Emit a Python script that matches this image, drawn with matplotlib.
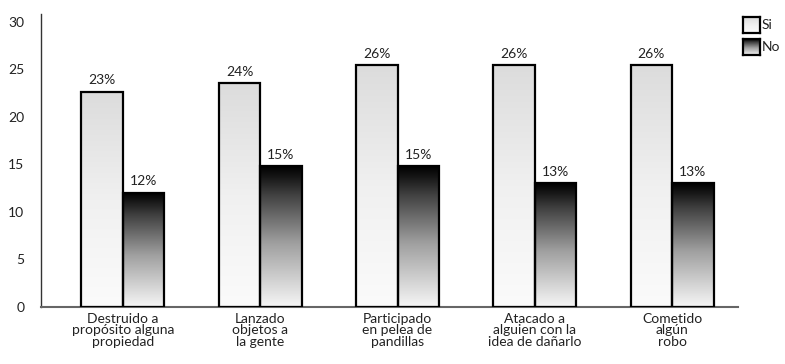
import numpy as np
import matplotlib.pyplot as plt
from matplotlib.colors import LinearSegmentedColormap

categories = ['Destruido a\npropósito alguna\npropiedad',
              'Lanzado\nobjetos a\nla gente',
              'Participado\nen pelea de\npandillas',
              'Atacado a\nalguien con la\nidea de dañarlo',
              'Cometido\nalgún\nrobo']
si_values = [22.6, 23.5, 25.4, 25.4, 25.4]
no_values = [12.0, 14.8, 14.8, 13.0, 13.0]
si_labels = ['23%', '24%', '26%', '26%', '26%']
no_labels = ['12%', '15%', '15%', '13%', '13%']
series_names = ['Si', 'No']

plt.rcParams['font.family'] = ['Lato', 'DejaVu Sans']

cmap_si = LinearSegmentedColormap.from_list('si', ['#fbfbfb', '#f0f0f0', '#dcdcdc'])
cmap_no = LinearSegmentedColormap.from_list(
    'no', [(0, '#f6f6f6'), (0.45, '#a0a0a0'), (0.8, '#404040'), (0.92, '#181818'), (1, '#000000')])
grad = np.linspace(0, 1, 256).reshape(-1, 1)

fig = plt.figure(figsize=(7.85, 3.64), dpi=100)
ax = fig.add_axes([41 / 785, (364 - 307) / 364, (738 - 41) / 785, (307 - 14) / 364])

x = np.arange(len(categories))
w = 0.302
fs = 10

def gradient_bars(xs, vals, cmap):
    for xi, v in zip(xs, vals):
        ax.imshow(grad, extent=[xi - w / 2, xi + w / 2, 0, v], origin='lower',
                  aspect='auto', cmap=cmap, vmin=0, vmax=1, zorder=2)
    ax.bar(xs, vals, w, fill=False, edgecolor='black', linewidth=1.6, zorder=3)

gradient_bars(x - w / 2, si_values, cmap_si)
gradient_bars(x + w / 2, no_values, cmap_no)

for xi, v, lab in zip(x - w / 2, si_values, si_labels):
    ax.annotate(lab, (xi, v), xytext=(0, 4), textcoords='offset points',
                ha='center', va='bottom', fontsize=fs, color='#222222')
for xi, v, lab in zip(x + w / 2, no_values, no_labels):
    ax.annotate(lab, (xi, v), xytext=(0, 4), textcoords='offset points',
                ha='center', va='bottom', fontsize=fs, color='#222222')

ax.set_xlim(-0.597, 4.48)
ax.set_ylim(0, 30.8)
ax.set_yticks(range(0, 31, 5))
ax.set_xticks(x)
ax.set_xticklabels(categories, fontsize=fs, linespacing=0.98, color='#222222')
ax.tick_params(axis='y', length=0, pad=12, labelsize=fs, labelcolor='#222222')
ax.tick_params(axis='x', length=0, pad=4)

for s in ['top', 'right']:
    ax.spines[s].set_visible(False)
ax.spines['left'].set_color('#333333')
ax.spines['left'].set_linewidth(1.0)
ax.spines['bottom'].set_color('#666666')
ax.spines['bottom'].set_linewidth(1.5)

# legend keys
for i, (name, cm) in enumerate(zip(series_names, [cmap_si, cmap_no])):
    top = 17 + i * 22
    lax = fig.add_axes([743 / 785, (364 - top - 16) / 364, 17 / 785, 16 / 364])
    lax.imshow(grad, origin='lower', aspect='auto', cmap=cm, vmin=0, vmax=1)
    lax.set_xticks([])
    lax.set_yticks([])
    for sp in lax.spines.values():
        sp.set_linewidth(1.6)
    fig.text(762 / 785, (364 - top - 8) / 364, name, fontsize=fs, va='center',
             ha='left', color='#222222')

fig.savefig('out.png', dpi=100)
